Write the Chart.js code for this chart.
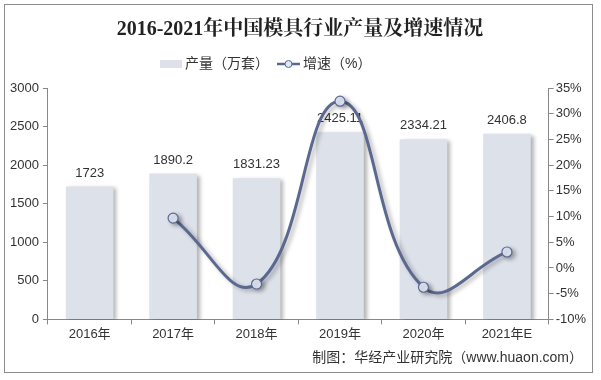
<!DOCTYPE html>
<html><head><meta charset="utf-8">
<script src="https://cdn.jsdelivr.net/npm/chart.js@4/dist/chart.umd.min.js"></script>
<style>
html,body{margin:0;padding:0;background:#fff;}
#wrap{position:absolute;left:0;top:0;width:601px;height:380px;}
</style></head>
<body><div id="wrap"><canvas id="c" width="601" height="380"></canvas></div>
<script>
const titleText = '2016-2021年中国模具行业产量及增速情况';
const footerText = '制图：华经产业研究院（www.huaon.com）';
const categories = ['2016年','2017年','2018年','2019年','2020年','2021年E'];
const output = [1723, 1890.2, 1831.23, 2425.11, 2334.21, 2406.8];
const outputLabels = ['1723','1890.2','1831.23','2425.11','2334.21','2406.8'];
const growth = [null, 9.7, -3.12, 32.43, -3.75, 3.11];
const seriesNames = ['产量（万套）','增速（%）'];
const leftTicks = [0,500,1000,1500,2000,2500,3000];
const rightTicks = [-10,-5,0,5,10,15,20,25,30,35];

const barColor = '#dde1ea';
const lineColor = '#5b6990';
const txt = '#333333';
const sans = '"Liberation Sans", Arial, sans-serif';
const cjk = '"Liberation Sans", "Noto Sans CJK SC", sans-serif';

const decor = {
  id:'decor',
  beforeDraw(chart){
    const ctx = chart.ctx;
    ctx.save();
    ctx.fillStyle = '#fff';
    ctx.fillRect(0,0,chart.width,chart.height);
    ctx.strokeStyle = '#8c8c8c';
    ctx.lineWidth = 1;
    ctx.strokeRect(4.5,4.5,588,368);
    // title
    ctx.fillStyle = '#222';
    ctx.font = 'bold 20px "Liberation Serif", "Noto Serif CJK SC", "Noto Sans CJK SC", serif';
    ctx.textAlign = 'center'; ctx.textBaseline = 'middle';
    ctx.fillText(titleText, 300, 30);
    // legend
    ctx.font = '14px ' + cjk;
    ctx.textAlign = 'left';
    ctx.fillStyle = barColor;
    ctx.fillRect(160, 60, 22, 8);
    ctx.fillStyle = txt;
    ctx.fillText(seriesNames[0], 185, 64);
    ctx.strokeStyle = lineColor; ctx.lineWidth = 2.5;
    ctx.beginPath(); ctx.moveTo(277,64); ctx.lineTo(300,64); ctx.stroke();
    ctx.beginPath(); ctx.arc(288.5,64,3.5,0,Math.PI*2);
    ctx.fillStyle = '#dfe6f5'; ctx.fill();
    ctx.lineWidth = 1; ctx.stroke();
    ctx.fillStyle = txt;
    ctx.fillText(seriesNames[1], 303, 64);
    ctx.restore();
  },
  afterDraw(chart){
    const ctx = chart.ctx;
    ctx.save();
    ctx.font = '14px ' + cjk;
    ctx.fillStyle = txt; ctx.textAlign = 'right'; ctx.textBaseline = 'middle';
    ctx.fillText(footerText, 583, 358);
    ctx.restore();
  },
  beforeDatasetDraw(chart,args){
    const ctx = chart.ctx;
    ctx.save();
    ctx.shadowColor = 'rgba(0,0,0,0.3)';
    ctx.shadowBlur = 4;
    ctx.shadowOffsetX = 3;
    ctx.shadowOffsetY = 2;
  },
  afterDatasetDraw(chart,args){
    const ctx = chart.ctx;
    ctx.restore();
    if (args.index === 1) {
      const meta = chart.getDatasetMeta(1);
      ctx.save();
      ctx.font = '13px ' + sans;
      ctx.fillStyle = txt;
      ctx.textAlign = 'center'; ctx.textBaseline = 'bottom';
      meta.data.forEach((b,i)=>{ ctx.fillText(outputLabels[i], b.x, b.y - 7); });
      ctx.restore();
    }
  }
};

new Chart(document.getElementById('c'), {
  data: {
    labels: categories,
    datasets: [
      { type:'line', label: seriesNames[1], data: growth, yAxisID:'y1', order:0,
        borderColor: lineColor, borderWidth: 3, tension: 0.45, spanGaps:true,
        pointRadius: 5, pointBackgroundColor:'#dfe6f5', pointBorderColor: lineColor, pointBorderWidth:1.2 },
      { type:'bar', label: seriesNames[0], data: output, yAxisID:'y', order:1,
        backgroundColor: barColor, categoryPercentage: 1, barPercentage: 0.57 }
    ]
  },
  options: {
    responsive:false, animation:false,
    layout:{ padding:{ top:88, left:6, right:13, bottom:36 } },
    plugins:{ legend:{display:false}, title:{display:false}, tooltip:{enabled:false} },
    scales:{
      x:{ grid:{ display:true, drawOnChartArea:false, offset:true, tickLength:5, color:'#888' },
          border:{ color:'#888' },
          ticks:{ color:txt, font:{ size:13, family:cjk }, padding:2 } },
      y:{ position:'left', min:0, max:3000,
          afterBuildTicks(s){ s.ticks = leftTicks.map(v=>({value:v})); },
          grid:{ drawOnChartArea:false, tickLength:5, color:'#888' }, border:{ color:'#888' },
          ticks:{ color:txt, font:{ size:13, family:sans }, padding:4, callback:v=>String(v) } },
      y1:{ position:'right', min:-10, max:35,
          afterBuildTicks(s){ s.ticks = rightTicks.map(v=>({value:v})); },
          grid:{ drawOnChartArea:false, tickLength:5, color:'#888' }, border:{ color:'#888' },
          ticks:{ color:txt, font:{ size:13, family:sans }, padding:2, callback:v=>v+'%' } }
    }
  },
  plugins:[decor]
});
</script></body></html>
